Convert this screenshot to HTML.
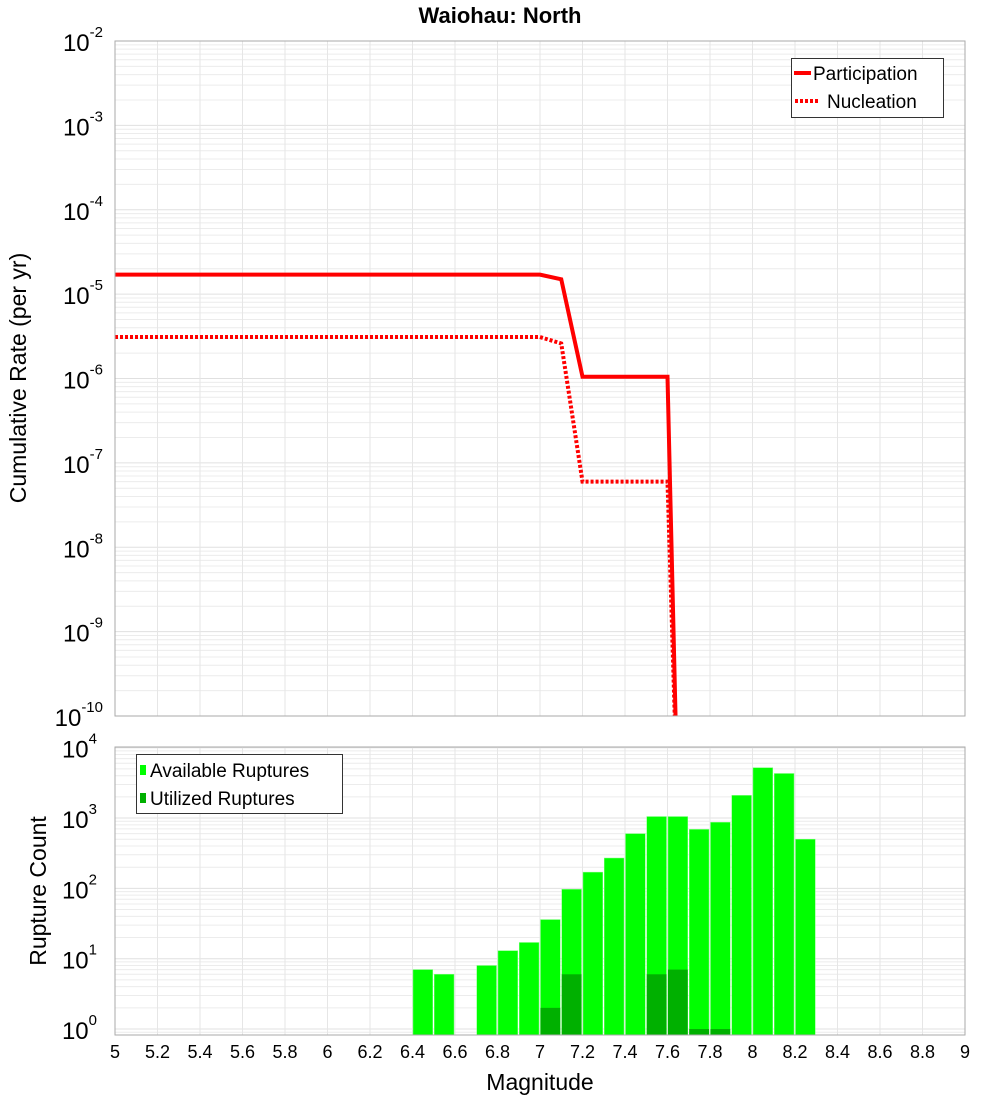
<!DOCTYPE html>
<html><head><meta charset="utf-8"><style>
body{margin:0;background:#fff;}
svg{display:block;font-family:"Liberation Sans","DejaVu Sans",sans-serif;}
</style></head><body>
<svg id="c" width="1000" height="1100" viewBox="0 0 1000 1100" xmlns="http://www.w3.org/2000/svg">
<text x="500" y="23" text-anchor="middle" font-size="22" font-weight="bold">Waiohau: North</text>
<g id="gtop"></g>
<g id="gbot"></g>
<text transform="translate(26,378) rotate(-90)" text-anchor="middle" font-size="23">Cumulative Rate (per yr)</text>
<text transform="translate(46,891) rotate(-90)" text-anchor="middle" font-size="23">Rupture Count</text>
<text x="540" y="1090" text-anchor="middle" font-size="23">Magnitude</text>
</svg>
<script>
const xTicks=["5","5.2","5.4","5.6","5.8","6","6.2","6.4","6.6","6.8","7","7.2","7.4","7.6","7.8","8","8.2","8.4","8.6","8.8","9"];
const partMags=[5.0,7.0,7.1,7.2,7.6,7.65];
const partRates=[1.7e-5,1.7e-5,1.5e-5,1.05e-6,1.05e-6,5e-12];
const nuclMags=[5.0,7.0,7.1,7.2,7.6,7.65];
const nuclRates=[3.1e-6,3.1e-6,2.6e-6,6e-8,6e-8,5e-12];
const binMags=[6.45,6.55,6.75,6.85,6.95,7.05,7.15,7.25,7.35,7.45,7.55,7.65,7.75,7.85,7.95,8.05,8.15,8.25];
const availCounts=[7,6,8,13,17,36,97,170,270,600,1050,1050,690,870,2100,5200,4300,500];
const utilMags=[7.05,7.15,7.55,7.65,7.75,7.85];
const utilCounts=[2,6,6,7,1,1];

const NS="http://www.w3.org/2000/svg";
function mk(p,t,a){const e=document.createElementNS(NS,t);for(const k in a)e.setAttribute(k,a[k]);p.appendChild(e);return e;}
const X0=115,X1=965;
const xs=m=>X0+(m-5)/4*(X1-X0);
const PT={top:41,bot:716,lo:-10,hi:-2};
const PB={top:747,bot:1035,lo:-0.085,hi:4.01};
const ty=v=>PT.top+(PT.hi-Math.log10(v))/(PT.hi-PT.lo)*(PT.bot-PT.top);
const by=v=>PB.top+(PB.hi-Math.log10(v))/(PB.hi-PB.lo)*(PB.bot-PB.top);
const svgEl=document.getElementById('c');
const gTop=document.getElementById('gtop'), gBot=document.getElementById('gbot');
const defs=mk(svgEl,'defs',{});
const cp=mk(defs,'clipPath',{id:'ct'});mk(cp,'rect',{x:X0,y:PT.top,width:X1-X0,height:PT.bot-PT.top});
const cp2=mk(defs,'clipPath',{id:'cb'});mk(cp2,'rect',{x:X0,y:PB.top,width:X1-X0,height:PB.bot-PB.top});

function grid(g,P,yf,lo,hi){
  for(let d=Math.floor(lo);d<Math.ceil(hi);d++)for(let k=1;k<10;k++){
    const v=k*Math.pow(10,d);const y=yf(v);if(y<P.top||y>P.bot)continue;
    const l=mk(g,'line',{x1:X0,x2:X1,y1:y,y2:y,stroke:k==1?'#e0e0e0':'#ececec','stroke-width':1});
    
    
  }
  xTicks.forEach(t=>{const x=xs(+t);const l=mk(g,'line',{x1:x,x2:x,y1:P.top,y2:P.bot,stroke:'#e6e6e6'});
    
    });
}
grid(gTop,PT,ty,PT.lo,PT.hi);grid(gBot,PB,by,PB.lo-1,PB.hi);

for(let d=-10;d<=-2;d++){
  const y=ty(Math.pow(10,d));
  const t=mk(gTop,'text',{x:103,y:y+10,'text-anchor':'end','font-size':24});
  
  
  t.textContent='10';
  const s=mk(t,'tspan',{dy:-14,'font-size':15});s.textContent=String(d);
}
for(let d=0;d<=4;d++){
  const y=by(Math.pow(10,d));
  const t=mk(gBot,'text',{x:97,y:y+10,'text-anchor':'end','font-size':24});
  
  
  t.textContent='10';
  const s=mk(t,'tspan',{dy:-14,'font-size':15});s.textContent=String(d);
}
xTicks.forEach(t=>{const e=mk(gBot,'text',{x:xs(+t),y:1058,'text-anchor':'middle','font-size':18});
  
  
  e.textContent=t;});

const lg=mk(gTop,'g',{'clip-path':'url(#ct)'});
const pp=mk(lg,'polyline',{points:partMags.map((m,i)=>xs(m)+','+ty(partRates[i])).join(' '),fill:'none',stroke:'#ff0000','stroke-width':4});


const np=mk(lg,'polyline',{points:nuclMags.map((m,i)=>xs(m)+','+ty(nuclRates[i])).join(' '),fill:'none',stroke:'#ff0000','stroke-width':4,'stroke-dasharray':'3,2'});



const bg=mk(gBot,'g',{'clip-path':'url(#cb)'});
const bw=xs(0.1)-xs(0);
binMags.forEach((m,i)=>{const y=by(availCounts[i]);
  const r=mk(bg,'rect',{x:xs(m)-bw/2+0.5,y:y,width:bw-1.5,height:PB.bot-y,fill:'#00ff00',stroke:'#7fff7f','stroke-width':0.5});
  
  });
utilMags.forEach((m,i)=>{const y=by(utilCounts[i]);
  const r=mk(bg,'rect',{x:xs(m)-bw/2+0.5,y:y,width:bw-1.5,height:PB.bot-y,fill:'#00b000'});
  
  });

[[PT,gTop],[PB,gBot]].forEach(([P,g])=>{const r=mk(g,'rect',{x:X0,y:P.top,width:X1-X0,height:P.bot-P.top,fill:'none',stroke:'#aaaaaa','stroke-width':1});
  
  });

const L1=mk(gTop,'g',{});


mk(L1,'rect',{x:791.5,y:58.5,width:152,height:59,fill:'#fff',stroke:'#333'});
mk(L1,'line',{x1:794,x2:811,y1:73,y2:73,stroke:'#f00','stroke-width':4});
mk(L1,'line',{x1:795,x2:820,y1:101,y2:101,stroke:'#f00','stroke-width':4,'stroke-dasharray':'3,2'});
let t=mk(L1,'text',{x:813,y:80,'font-size':19});t.textContent='Participation';
t=mk(L1,'text',{x:827,y:108,'font-size':19});t.textContent='Nucleation';
const L2=mk(gBot,'g',{});


mk(L2,'rect',{x:136.5,y:754.5,width:206,height:59,fill:'#fff',stroke:'#333'});
mk(L2,'rect',{x:140,y:765,width:6,height:10,fill:'#00ff00'});
mk(L2,'rect',{x:140,y:793,width:6,height:10,fill:'#00b000'});
t=mk(L2,'text',{x:150,y:777,'font-size':19});t.textContent='Available Ruptures';
t=mk(L2,'text',{x:150,y:805,'font-size':19});t.textContent='Utilized Ruptures';
</script>
</body></html>
